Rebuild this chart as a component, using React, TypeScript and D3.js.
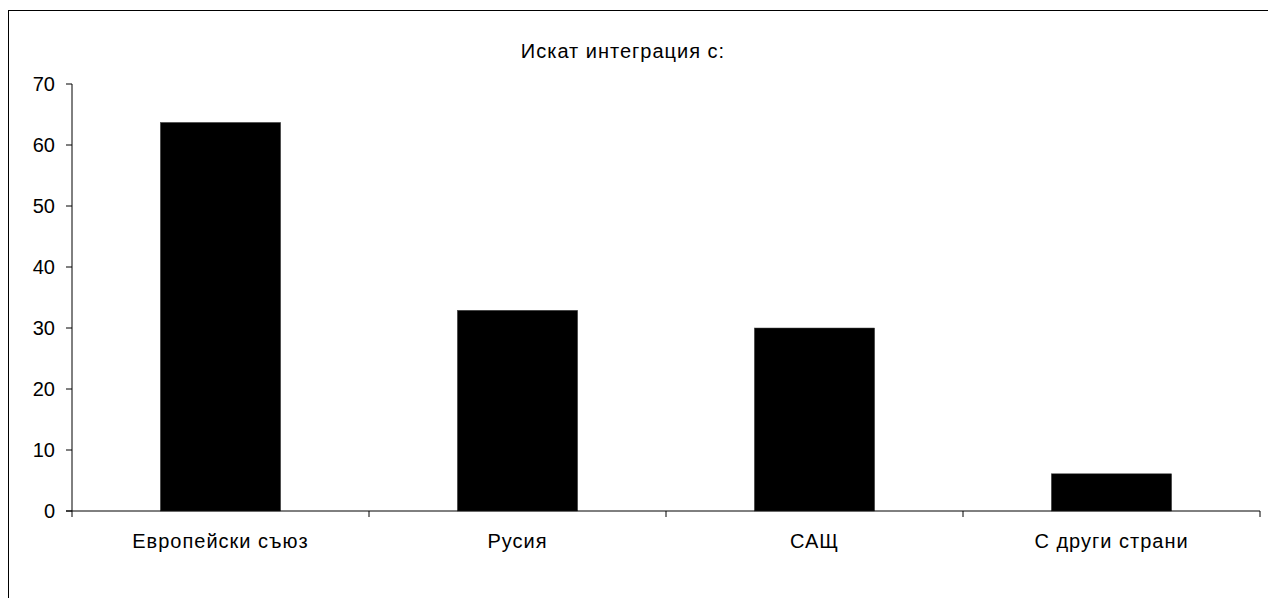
import React from "react";
import * as d3 from "d3";

const categories = ["Европейски съюз", "Русия", "САЩ", "С други страни"];
const values = [63.7, 32.9, 30.0, 6.1];
const yTicks = [0, 10, 20, 30, 40, 50, 60, 70];
const title = "Искат интеграция с:";

const W = 1268;
const H = 598;
const left = 72;
const right = 1260;
const top = 84;
const bottom = 511;
const FONT = "'Liberation Sans', Arial, sans-serif";
const FS = 20;
const LS = 1;

export default function App() {
  const x = d3
    .scaleBand<string>()
    .domain(categories)
    .range([left, right])
    .paddingInner(0.595)
    .paddingOuter(0.2975);
  const y = d3.scaleLinear().domain([0, 70]).range([bottom, top]);
  const step = x.step();
  const boundaries = d3.range(categories.length + 1).map((i) => left + i * step);

  return (
    <svg
      width={W}
      height={H}
      style={{ position: "absolute", left: 0, top: 0, background: "#fff" }}
      fontFamily={FONT}
    >
      <rect x={8.5} y={10.5} width={1300} height={700} fill="#fff" stroke="#000" strokeWidth={1} />
      <text x={623} y={58} textAnchor="middle" fontSize={FS} letterSpacing={LS} fill="#000">
        {title}
      </text>
      {categories.map((c, i) => (
        <rect
          key={c}
          x={x(c)}
          y={y(values[i])}
          width={x.bandwidth()}
          height={y(0) - y(values[i])}
          fill="#000"
          stroke="#444"
          strokeWidth={0.5}
        />
      ))}
      <line x1={left} x2={left} y1={y(70)} y2={y(0)} stroke="#000" strokeWidth={1} />
      {yTicks.map((t) => (
        <g key={t}>
          <line x1={left - 6} x2={left} y1={y(t)} y2={y(t)} stroke="#000" />
          <text x={55} y={y(t)} dy="0.36em" textAnchor="end" fontSize={FS} fill="#000">
            {t}
          </text>
        </g>
      ))}
      <line x1={left - 6} x2={right} y1={y(0)} y2={y(0)} stroke="#000" strokeWidth={1} />
      {boundaries.map((b, i) => (
        <line key={i} x1={b} x2={b} y1={y(0)} y2={y(0) + 6} stroke="#000" />
      ))}
      {categories.map((c) => (
        <text
          key={c}
          x={(x(c) as number) + x.bandwidth() / 2}
          y={548}
          textAnchor="middle"
          fontSize={FS}
          letterSpacing={LS}
          fill="#000"
        >
          {c}
        </text>
      ))}
    </svg>
  );
}
